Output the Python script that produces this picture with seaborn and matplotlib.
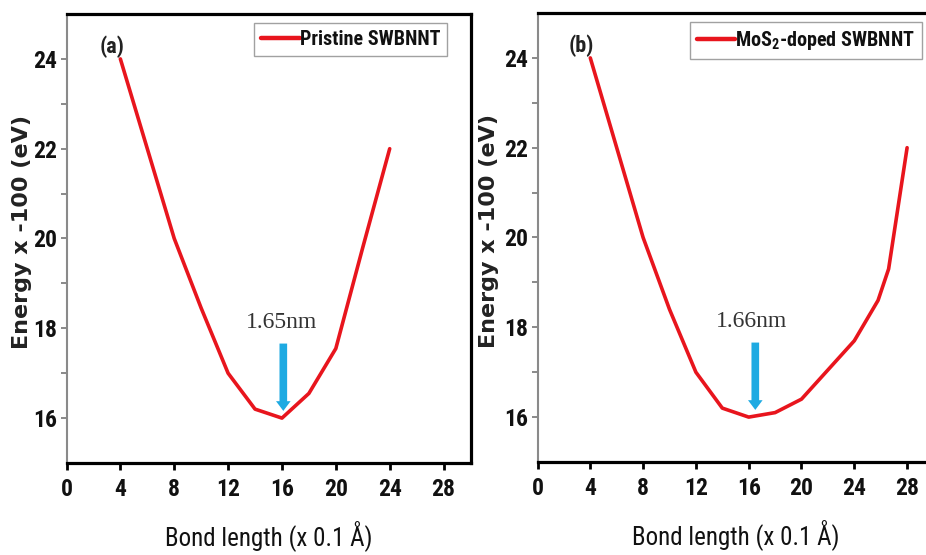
import matplotlib
matplotlib.use("Agg")
import matplotlib.pyplot as plt
import seaborn as sns
import pandas as pd

# Energy vs bond length for the two nanotubes
pristine_x = [4, 6, 8, 10, 12, 14, 16, 18, 20, 22, 24]
pristine_y = [24, 22, 20, 18.45, 17, 16.2, 16, 16.55, 17.55, 19.8, 22]
doped_x = [4, 6, 8, 10, 12, 14, 16, 18, 20, 22, 24, 25.8, 26.6, 28]
doped_y = [24, 22, 20, 18.4, 17, 16.2, 16, 16.1, 16.4, 17.05, 17.7, 18.6, 19.3, 22]

panel_tags = ["(a)", "(b)"]
series_names = ["Pristine SWBNNT", r"MoS$_2$-doped SWBNNT"]
min_labels = ["1.65nm", "1.66nm"]
min_label_x = [16.0, 16.2]
arrow_x = [16.1, 16.5]
x_ticks = [0, 4, 8, 12, 16, 20, 24, 28]
y_major = [16, 18, 20, 22, 24]
y_minor = [17, 19, 21, 23]

sns.set_theme(style="white")
COND = ["Roboto Condensed", "PT Sans Narrow", "DejaVu Sans"]
plt.rcParams["font.family"] = COND
plt.rcParams["mathtext.fontset"] = "custom"
plt.rcParams["mathtext.rm"] = "Roboto Condensed:bold"
plt.rcParams["mathtext.default"] = "rm"

RED = "#e8151d"
BLUE = "#1eaae2"

fig = plt.figure(figsize=(9.26, 5.55), dpi=100)
W, H = 926, 555
axes = [
    fig.add_axes([66.5 / W, (H - 463) / H, 404 / W, 449 / H]),
    fig.add_axes([537.5 / W, (H - 462) / H, 396 / W, 449 / H]),
]

datasets = [(pristine_x, pristine_y), (doped_x, doped_y)]
legend_anchor = [(0.942, 0.981), (0.971, 0.981)]
ylabel_x = [-0.085, -0.098]

for i, ax in enumerate(axes):
    xs, ys = datasets[i]
    df = pd.DataFrame({"x": xs, "y": ys})
    sns.lineplot(data=df, x="x", y="y", ax=ax, color=RED, lw=2.6,
                 sort=False, label=series_names[i])

    ax.set_xlim(0, 30)
    ax.set_ylim(15, 25)
    ax.set_xticks(x_ticks)
    ax.set_yticks(y_major)
    ax.set_yticks(y_minor, minor=True)
    ax.tick_params(axis="x", which="major", direction="out", length=5,
                   width=2, color="black", pad=6, bottom=True)
    ax.tick_params(axis="y", which="both", direction="out", length=4,
                   width=1.2, color="#777777", pad=3, left=True)
    for lab in ax.get_xticklabels() + ax.get_yticklabels():
        lab.set_fontfamily(COND)
        lab.set_fontweight("bold")
        lab.set_fontsize(17)
        lab.set_color("#111111")

    for side in ["top", "right", "bottom"]:
        ax.spines[side].set_visible(True)
        ax.spines[side].set_color("black")
        ax.spines[side].set_linewidth(2.3)
    ax.spines["left"].set_color("#8a8a8a")
    ax.spines["left"].set_linewidth(1.5)

    ax.set_xlabel("Bond length (x 0.1 Å)", fontsize=18, color="#111111",
                  fontfamily=COND)
    ax.xaxis.set_label_coords(0.5, -0.128)
    ax.set_ylabel("Energy x -100 (eV)", fontsize=16, fontweight="bold",
                  color="#222222", fontfamily=["DejaVu Sans"])
    ax.yaxis.set_label_coords(ylabel_x[i], 0.514)

    ax.text(3.35, 24.28, panel_tags[i], fontsize=16, fontweight="bold",
            ha="center", va="center", color="#222222", fontfamily=COND)

    ax.text(min_label_x[i], 18.12, min_labels[i], fontsize=17,
            ha="center", va="center", color="#333333",
            fontfamily=["Liberation Serif", "DejaVu Serif"])
    ax.annotate("", xy=(arrow_x[i], 16.16), xytext=(arrow_x[i], 17.66),
                arrowprops=dict(width=5.5, headwidth=10.5, headlength=7,
                                shrink=0, color=BLUE, lw=0))

    leg = ax.legend(loc="upper right", bbox_to_anchor=legend_anchor[i],
                    borderaxespad=0, frameon=True, fancybox=False,
                    handlelength=1.9, handletextpad=0.0, borderpad=0.35,
                    prop={"family": COND, "weight": "bold", "size": 14.5})
    leg.get_frame().set_edgecolor("#8a8a8a")
    leg.get_frame().set_linewidth(1.0)
    for t in leg.get_texts():
        t.set_color("#111111")
    for h in leg.get_lines():
        h.set_linewidth(3.2)

fig.savefig("out.png", dpi=100)
